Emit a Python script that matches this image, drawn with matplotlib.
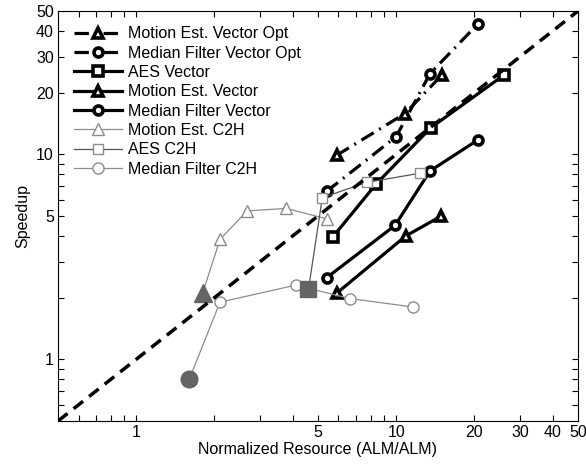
import matplotlib.pyplot as plt
import numpy as np

plt.rcParams['font.family'] = ['Liberation Sans', 'DejaVu Sans']
plt.rcParams['font.size'] = 11.5

# vector (hand optimised) designs
me_opt_x = [5.9, 10.8, 15.0]
me_opt_y = [9.9, 15.8, 24.4]
mf_opt_x = [5.4, 10.0, 13.5, 20.7]
mf_opt_y = [6.6, 12.2, 24.8, 43.5]
aes_vec_x = [5.7, 8.4, 13.6, 26.0]
aes_vec_y = [3.95, 7.2, 13.5, 24.4]
me_vec_x = [5.9, 10.9, 14.9]
me_vec_y = [2.1, 4.0, 5.0]
mf_vec_x = [5.4, 9.9, 13.5, 20.7]
mf_vec_y = [2.5, 4.5, 8.3, 11.8]

# C2H designs (first point = baseline)
me_c2h_x = [1.8, 2.1, 2.67, 3.78, 5.4]
me_c2h_y = [2.1, 3.85, 5.3, 5.45, 4.85]
aes_c2h_x = [4.6, 5.2, 7.7, 12.4]
aes_c2h_y = [2.2, 6.15, 7.3, 8.1]
mf_c2h_x = [1.6, 2.1, 4.1, 6.65, 11.6]
mf_c2h_y = [0.8, 1.9, 2.3, 1.98, 1.8]

diag = [0.5, 50]

ticks = [0.6, 0.7, 0.8, 0.9, 1, 2, 3, 4, 5, 6, 7, 8, 9, 10, 20, 30, 40, 50]
shown = [1, 5, 10, 20, 30, 40, 50]
labels = [str(t) if t in shown else '' for t in ticks]

fig = plt.figure(figsize=(5.86, 4.66), dpi=100)
ax = fig.add_axes([0.099, 0.0966, 0.887, 0.8794])

dashdot = (0, (4.5, 2, 0.6, 2))
vec = dict(color='black', lw=2.3, markersize=6.5, markeredgewidth=2.6,
           markerfacecolor='white', markeredgecolor='black')

ax.plot(me_opt_x, me_opt_y, linestyle=dashdot, marker='^', label='Motion Est. Vector Opt', **vec)
ax.plot(mf_opt_x, mf_opt_y, linestyle=dashdot, marker='o', label='Median Filter Vector Opt', **vec)
ax.plot(aes_vec_x, aes_vec_y, '-', marker='s', label='AES Vector', **vec)
ax.plot(me_vec_x, me_vec_y, '-', marker='^', label='Motion Est. Vector', **vec)
ax.plot(mf_vec_x, mf_vec_y, '-', marker='o', label='Median Filter Vector', **vec)

light = '#8c8c8c'
dark = '#555555'
ax.plot(me_c2h_x, me_c2h_y, '-', color=light, lw=0.9, marker='^', markersize=8,
        markerfacecolor='white', markeredgecolor=light, label='Motion Est. C2H')
ax.plot(aes_c2h_x, aes_c2h_y, '-', color=dark, lw=0.9, marker='s', markersize=7,
        markerfacecolor='white', markeredgecolor=light, label='AES C2H')
ax.plot(mf_c2h_x, mf_c2h_y, '-', color=light, lw=0.9, marker='o', markersize=8,
        markerfacecolor='white', markeredgecolor=light, label='Median Filter C2H')

base = '#646464'
ax.plot(me_c2h_x[0], me_c2h_y[0], '^', color=base, markersize=13)
ax.plot(aes_c2h_x[0], aes_c2h_y[0], 's', color=base, markersize=11)
ax.plot(mf_c2h_x[0], mf_c2h_y[0], 'o', color=base, markersize=12)

ax.plot(diag, diag, color='black', lw=2.5, linestyle=(0, (3.5, 2.2)))

ax.set_xscale('log')
ax.set_yscale('log')
ax.set_xlim(0.5, 50)
ax.set_ylim(0.5, 50)
ax.set_xticks(ticks)
ax.set_xticklabels(labels)
ax.set_yticks(ticks)
ax.set_yticklabels(labels)
ax.minorticks_off()
ax.tick_params(which='both', direction='in', top=True, right=True, length=4, width=0.8, pad=3)
ax.set_xlabel('Normalized Resource (ALM/ALM)', labelpad=1)
ax.set_ylabel('Speedup', labelpad=4)

ax.legend(loc='upper left', bbox_to_anchor=(0.031, 0.963), frameon=False, handlelength=3.0,
          borderaxespad=0.0, labelspacing=0.27, handletextpad=0.35, borderpad=0.0)

fig.savefig('out.png', dpi=100)
